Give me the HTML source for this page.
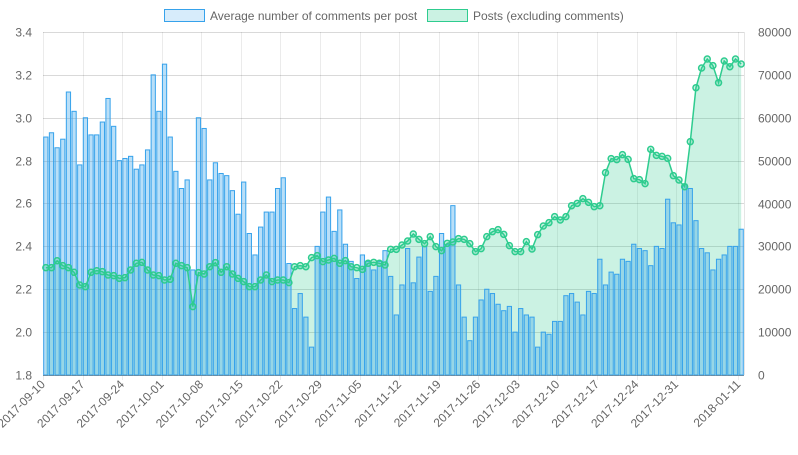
<!DOCTYPE html>
<html><head><meta charset="utf-8"><style>
html,body{margin:0;padding:0;background:#fff;}
svg text{font-family:"Liberation Sans",Arial,sans-serif;font-size:12px;fill:#666;}
</style></head><body>
<svg id="chart" width="798" height="450" viewBox="0 0 798 450" xmlns="http://www.w3.org/2000/svg">
<g id="legend">
<g>
<rect x="164.5" y="9.5" width="40" height="12" fill="rgba(54,162,235,0.2)" stroke="#36a2eb" stroke-width="1"/>
<text x="210" y="20">Average number of comments per post</text></g>
<g>
<rect x="427.5" y="9.5" width="40" height="12" fill="rgba(46,204,143,0.25)" stroke="#2ecc8f" stroke-width="1"/>
<text x="473" y="20">Posts (excluding comments)</text></g>
</g>
<g id="grid"></g>
<g id="area"></g>
<g id="bars"></g>
<g id="line"></g>
<g id="axes"></g>
</svg>
<script>
const comments = [2.91,2.93,2.86,2.90,3.12,3.03,2.78,3.00,2.92,2.92,2.98,3.09,2.96,2.80,2.81,2.82,2.76,2.78,2.85,3.20,3.03,3.25,
2.91,2.75,2.67,2.71,2.29,3.00,2.95,2.71,2.79,2.74,2.73,2.66,2.55,2.70,2.46,2.36,2.49,2.56,2.56,2.67,2.72,
2.32,2.11,2.18,2.07,1.93,2.40,2.56,2.63,2.47,2.57,2.41,2.33,2.25,2.36,2.33,2.29,2.33,2.38,2.26,2.08,2.22,
2.39,2.23,2.35,2.40,2.19,2.26,2.46,2.41,2.59,2.22,2.07,1.96,2.07,2.15,2.20,2.18,2.13,2.10,2.12,2.00,2.11,
2.08,2.07,1.93,2.00,1.99,2.05,2.05,2.17,2.18,2.14,2.08,2.19,2.18,2.34,2.22,2.28,2.27,2.34,2.33,2.41,2.39,
2.38,2.31,2.40,2.39,2.62,2.51,2.50,2.69,2.67,2.52,2.39,2.37,2.29,2.34,2.36,2.40,2.40,2.48];
const posts = [25030,25030,26660,25500,25030,23950,20990,20600,23950,24330,24100,23320,23170,22550,22700,24490,26050,26280,24490,23320,23170,22160,
22320,26050,25500,25030,15940,23870,23560,25260,26200,23950,25260,23560,22550,21770,20600,20600,22160,23320,21770,22160,22160,
21540,25260,25500,25260,27370,27840,26440,26820,27210,26050,26670,25260,25030,24640,26050,26280,26050,25660,29310,29310,30320,
31250,32890,31640,30630,32270,29940,29000,30710,31020,31800,31640,30630,28770,29470,32270,33430,33900,32810,30170,28770,28770,
31100,29390,32730,34750,35530,36930,36150,36930,39490,40040,41130,40270,39260,39490,47190,50460,50230,51390,50300,45790,45560,
44630,52630,51230,50990,50530,46490,45480,43920,54420,67010,71600,73700,72150,68180,73240,71910,73700,72540];
const leftTicks = [1.8,2.0,2.2,2.4,2.6,2.8,3.0,3.2,3.4];
const rightTicks = [0,10000,20000,30000,40000,50000,60000,70000,80000];
const startDate = "2017-09-10";
const labelIdx = [0,7,14,21,28,35,42,49,56,63,70,77,84,91,98,105,112,123];

const NS="http://www.w3.org/2000/svg";
const X0=43, X1=744, Y0=375, Y1=32;
const n=comments.length, bw=(X1-X0)/n;
const xc=i=>X0+bw*(i+0.5);
const yL=v=>Y0-(v-1.8)/(3.4-1.8)*(Y0-Y1);
const yR=v=>Y0-v/80000*(Y0-Y1);
function mk(tag,attrs,parent){const e=document.createElementNS(NS,tag);for(const k in attrs)e.setAttribute(k,attrs[k]);parent.appendChild(e);return e;}
function dateStr(i){const d=new Date(Date.UTC(2017,8,10+i));return d.toISOString().slice(0,10);}
const grid=document.getElementById('grid'),axes=document.getElementById('axes');
leftTicks.forEach((t,k)=>{
 const y=Math.round(yL(t))+0.5;
 const g=mk('line',{x1:X0,x2:X1,y1:y,y2:y,stroke:'rgba(0,0,0,0.15)','stroke-width':1},grid);
 
 
 const tl=mk('text',{x:32,y:y+4,'text-anchor':'end'},axes);tl.textContent=t.toFixed(1);
 
 
});
rightTicks.forEach(t=>{
 const y=Math.round(yR(t))+0.5;
 const tl=mk('text',{x:758,y:y+4,'text-anchor':'start'},axes);tl.textContent=String(t);
 
 
});
labelIdx.forEach(i=>{
 const gx=Math.round(X0+bw*i)+0.5;
 const vl=mk('line',{x1:gx,x2:gx,y1:Y1,y2:Y0+5,stroke:'rgba(0,0,0,0.08)','stroke-width':1},grid);
 
 
 const x=xc(i), y=385;
 const tl=mk('text',{x:x,y:y,'text-anchor':'end',transform:`rotate(-45 ${x} ${y})`},axes);tl.textContent=dateStr(i);
 
 
});
const ex=mk('line',{x1:X1+0.5,x2:X1+0.5,y1:Y1,y2:Y0,stroke:'rgba(0,0,0,0.1)','stroke-width':1},grid);


const ax=mk('line',{x1:X0,x2:X1,y1:Y0+0.5,y2:Y0+0.5,stroke:'rgba(0,0,0,0.25)','stroke-width':1},axes);


// area
let pts=posts.map((v,i)=>`${xc(i).toFixed(2)},${yR(v).toFixed(2)}`);
const area=mk('polygon',{points:`${xc(0)},${Y0} ${pts.join(' ')} ${xc(n-1)},${Y0}`,fill:'rgba(46,204,143,0.25)'},document.getElementById('area'));


// bars
const bars=document.getElementById('bars');
comments.forEach((v,i)=>{
 const w=bw*0.75, y=yL(v);
 const r=mk('rect',{x:(xc(i)-w/2).toFixed(2),y:y.toFixed(2),width:w.toFixed(2),height:(Y0-y).toFixed(2),fill:'rgba(54,162,235,0.35)',stroke:'#36a2eb','stroke-width':1},bars);
 
 
});
// line
const lg=document.getElementById('line');
const pl=mk('polyline',{points:pts.join(' '),fill:'none',stroke:'#2ecc8f','stroke-width':1.5},lg);


posts.forEach((v,i)=>{
 const c=mk('circle',{cx:xc(i).toFixed(2),cy:yR(v).toFixed(2),r:3,fill:'rgba(46,204,143,0.25)',stroke:'#2ecc8f','stroke-width':1.5},lg);
 
 
});
</script>
</body></html>
